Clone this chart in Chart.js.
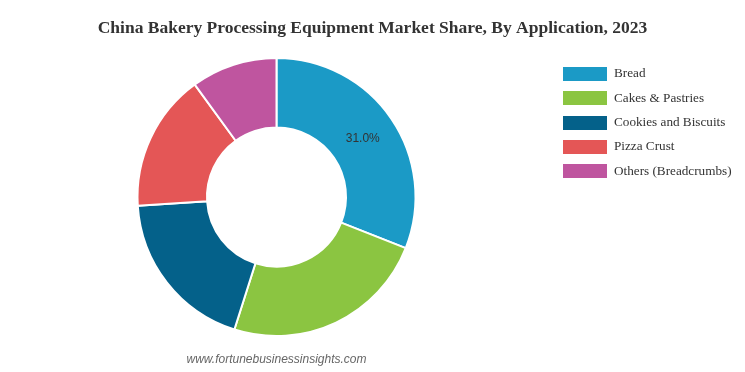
<!DOCTYPE html>
<html>
<head>
<meta charset="utf-8">
<script src="https://cdn.jsdelivr.net/npm/chart.js@4/dist/chart.umd.min.js"></script>
<style>
html,body{margin:0;padding:0;background:#fff;}
#wrap{width:745px;height:372px;position:relative;}
</style>
</head>
<body>
<div id="wrap"><canvas id="c" width="745" height="372"></canvas></div>
<script>
const categories = ["Bread", "Cakes & Pastries", "Cookies and Biscuits", "Pizza Crust", "Others (Breadcrumbs)"];
const shares = [31.0, 23.9, 19.1, 16.0, 10.0];
const colors = ["#1b9ac6", "#8bc541", "#04618a", "#e45656", "#bf559f"];
const titleText = "China Bakery Processing Equipment Market Share, By Application, 2023";
const sourceText = "www.fortunebusinessinsights.com";

const extras = {
  id: 'extras',
  afterDatasetsDraw(chart) {
    const ctx = chart.ctx;
    const meta = chart.getDatasetMeta(0);
    const arc = meta.data[0];
    const p = arc.tooltipPosition();
    ctx.save();
    ctx.textAlign = 'center';
    ctx.textBaseline = 'middle';
    // title
    ctx.font = 'bold 17.5px "Liberation Serif", "Times New Roman", serif';
    ctx.fillStyle = '#333';
    ctx.fillText(titleText, chart.width / 2, 28);
    // data label
    ctx.font = '12px "Liberation Sans", Arial, sans-serif';
    ctx.fillStyle = '#333';
    ctx.fillText(shares[0].toFixed(1) + '%', p.x, p.y);
    // source
    ctx.font = 'italic 12px "Liberation Sans", Arial, sans-serif';
    ctx.fillStyle = '#666';
    ctx.fillText(sourceText, arc.x, 360);
    // legend
    ctx.textAlign = 'left';
    ctx.font = '13.2px "Liberation Serif", "Times New Roman", serif';
    const x0 = 563, y0 = 74, step = 24.3;
    categories.forEach((c, i) => {
      const yc = y0 + i * step;
      ctx.fillStyle = colors[i];
      ctx.fillRect(x0, Math.round(yc - 7), 44, 14);
      ctx.fillStyle = '#333';
      ctx.fillText(c, 614, yc);
    });
    ctx.restore();
  }
};

new Chart(document.getElementById('c'), {
  type: 'doughnut',
  data: {
    labels: categories,
    datasets: [{
      data: shares,
      backgroundColor: colors,
      borderColor: '#fff',
      borderWidth: 2,
      hoverOffset: 0
    }]
  },
  options: {
    responsive: false,
    animation: false,
    cutout: '50%',
    layout: { padding: { top: 57, bottom: 35, left: 0, right: 192 } },
    plugins: {
      title: { display: false },
      legend: { display: false },
      tooltip: { enabled: false }
    }
  },
  plugins: [extras]
});
</script>
</body>
</html>
